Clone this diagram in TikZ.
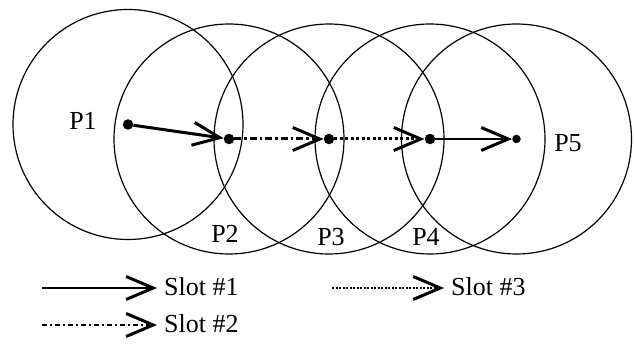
\documentclass[tikz,border=0pt]{standalone}
\usepackage{fontspec}
\setmainfont{Liberation Serif}
\usetikzlibrary{arrows.meta}
\begin{document}
\begin{tikzpicture}[x=1pt,y=1pt,
  dot/.style={circle,fill=black,inner sep=0pt,minimum size=10.5pt},
  smalldot/.style={circle,fill=black,inner sep=0pt,minimum size=8.5pt},
  radiocircle/.style={line width=1.2pt},
  lbl/.style={font=\fontsize{26}{30}\selectfont,inner sep=0pt},
  barb/.style={-{Straight Barb[length=27pt,width=23pt,line width=3pt]}},
  slotone/.style={barb,line width=3pt},
  slottwo/.style={barb,line width=3pt,dash pattern=on 7pt off 3pt on 2.5pt off 3pt},
  slotthree/.style={barb,line width=3pt,dash pattern=on 3pt off 2.5pt},
  legone/.style={barb,line width=2.6pt},
  legtwo/.style={barb,line width=2.4pt,dash pattern=on 5pt off 3pt on 2pt off 3pt},
  legthree/.style={barb,line width=2pt,dash pattern=on 2pt off 1.5pt}
]
\useasboundingbox (0,0) rectangle (634,345);
% dots
\node[dot] (P1) at (128,220.5) {};
\node[dot] (P2) at (229,206) {};
\node[dot] (P3) at (329,206) {};
\node[dot] (P4) at (430,206) {};
\node[smalldot] (P5) at (516.5,206) {};
% ranges
\draw[radiocircle] (P1.center) circle[radius=115];
\draw[radiocircle] (P2.center) circle[radius=115];
\draw[radiocircle] (P3.center) circle[radius=115];
\draw[radiocircle] (P4.center) circle[radius=115];
\draw[radiocircle] (P5.center) circle[radius=115];
% hops
\draw[slotone] (P1) -- (P2);
\draw[slottwo] (P2) -- (P3);
\draw[slotthree] (P3) -- (P4);
\draw[slotone,line width=2.5pt] (P4) -- (P5);
% labels
\node[lbl,anchor=base] (L1) at (83,215) {P1};
\node[lbl,anchor=base] (L2) at (225,102) {P2};
\node[lbl,anchor=base] (L3) at (331,99) {P3};
\node[lbl,anchor=base] (L4) at (426,99) {P4};
\node[lbl,anchor=base] (L5) at (568,193) {P5};
% legend
\coordinate (a1) at (42,57);
\coordinate (b1) at (157,57);
\node[lbl,anchor=base west] (T1) at (164,49) {Slot \#1};
\draw[legone] (a1) -- (b1);
\coordinate (a2) at (42,20);
\coordinate (b2) at (157,20);
\node[lbl,anchor=base west] (T2) at (164,12) {Slot \#2};
\draw[legtwo] (a2) -- (b2);
\coordinate (a3) at (332,57);
\coordinate (b3) at (444,57);
\node[lbl,anchor=base west] (T3) at (451,49) {Slot \#3};
\draw[legthree] (a3) -- (b3);
\end{tikzpicture}
\end{document}
